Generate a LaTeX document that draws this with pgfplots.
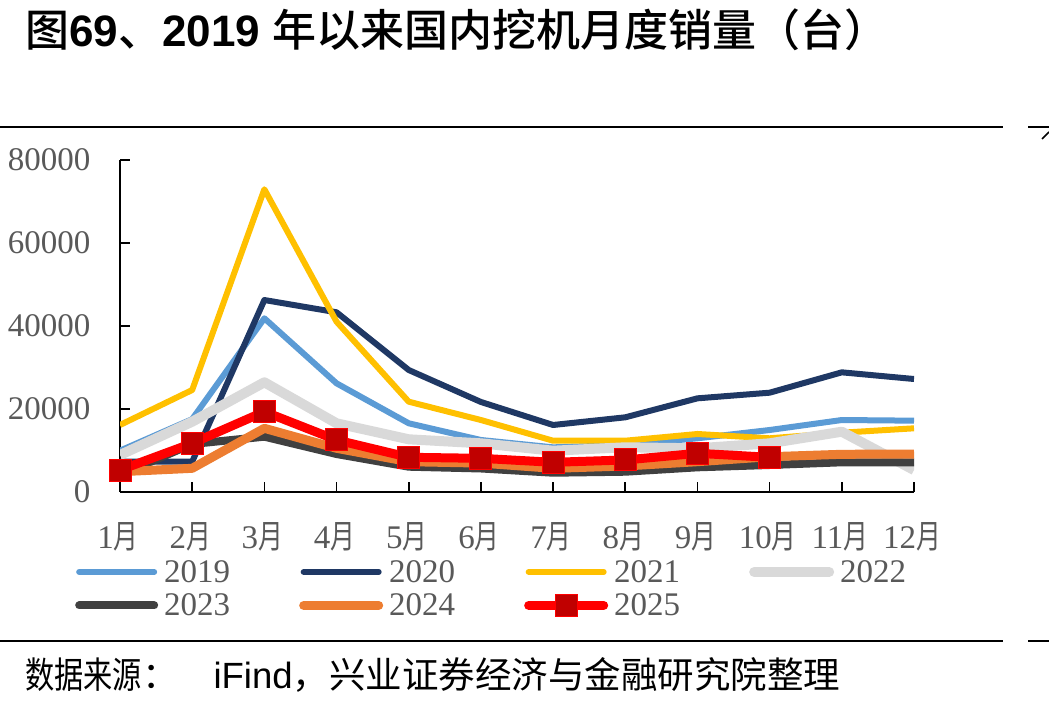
\documentclass[border=0pt]{standalone}
\usepackage{fontspec}
\setmainfont{Liberation Serif}
\newfontfamily\cjk{Noto Sans CJK SC}
\newfontfamily\cjkm{Noto Sans CJK SC Medium}
\newfontfamily\arial{Liberation Sans}
\usepackage{graphicx}
\usepackage{pgfplots}
\pgfplotsset{compat=1.18}
\usepackage{pgfplotstable}
\definecolor{c2019}{HTML}{5B9BD5}
\definecolor{c2020}{HTML}{1F3864}
\definecolor{c2021}{HTML}{FFC000}
\definecolor{c2022}{HTML}{D9D9D9}
\definecolor{c2023}{HTML}{404040}
\definecolor{c2024}{HTML}{ED7D31}
\definecolor{c2025}{HTML}{FF0000}
\definecolor{m2025}{HTML}{C00000}
\definecolor{txtgray}{HTML}{595959}
\newcommand\yue{\scalebox{0.75}[1]{\cjk 月}}
\newcommand\lbl{\fontsize{33}{36}\selectfont}

\pgfplotstableread{
m  y2019 y2020 y2021 y2022 y2023 y2024 y2025
1  9900  7240  16090 8850  4030  4820  5230
2  17500 7240  24530 16880 11500 5640  11670
3  41820 46230 72940 26390 13270 15290 19300
4  26140 43270 41000 16500 9090  10470 12470
5  16500 29350 21710 12640 6030  7240  8300
6  12470 21640 17290 11670 5600  6900  8050
7  10700 16090 12300 9890  4580  5640  7090
8  11260 17940 12300 10710 4820  6200  7650
9  12880 22520 13920 10470 5880  7240  9260
10 14880 23880 12880 11670 6440  8440  8300
11 17290 28790 14230 14470 7090  9020  nan
12 17130 27180 15290 5230  7090  9090  nan
}\data

\begin{document}
\begin{tikzpicture}[x=1pt,y=1pt]
\path[use as bounding box] (0,0) rectangle (1049,702);
% title
\node[anchor=base west, inner sep=0pt] at (25,655) {\fontsize{44}{48}\selectfont\cjkm 图{\arial\bfseries 69}、{\arial\bfseries 2019 }年以来国内挖机月度销量（台）};
% rules
\draw[line width=2.2pt] (0,575) -- (1003,575);
\draw[line width=2.2pt] (1028,575) -- (1049,575);
\draw[line width=1.5pt] (1042,563) -- (1049,570);
\draw[line width=2.2pt] (0,61) -- (1003,61);
\draw[line width=2.2pt] (1028,61) -- (1049,61);
% footer
\node[anchor=base west, inner sep=0pt] at (25,14) {\fontsize{36.5}{40}\selectfont\cjk \scalebox{0.8}[1]{数据来源}：\hspace{35pt}{\arial iFind}，兴业证券经济与金融研究院整理};

\begin{axis}[
  at={(120pt,210.3pt)}, anchor=south west,
  scale only axis, width=794pt, height=331.7pt,
  xmin=1, xmax=12, ymin=0, ymax=80000,
  axis lines=left,
  axis line style={-, line width=1.6pt, black},
  xtick={1,...,12},
  xticklabels={1\yue,2\yue,3\yue,4\yue,5\yue,6\yue,7\yue,8\yue,9\yue,10\yue,11\yue,12\yue},
  ytick={0,20000,40000,60000,80000},
  scaled y ticks=false,
  yticklabel style={/pgf/number format/1000 sep={}, /pgf/number format/assume math mode=true, xshift=-26pt},
  xticklabel style={yshift=-27pt, xshift=-2pt},
  tick align=inside,
  major tick length=10pt,
  tick style={line width=1.6pt, black},
  ticklabel style={font=\lbl, text=txtgray},
  unbounded coords=jump,
  legend columns=4,
  legend cell align=left,
  legend style={draw=none, fill=none, font=\lbl, text=txtgray,
    at={(axis description cs:-0.0567,-0.191)}, anchor=north west,
    inner sep=0pt, row sep=0pt,
    nodes={inner ysep=5pt, inner xsep=6pt},
    /tikz/every even column/.append style={column sep=63pt}},
  legend image code/.code={\draw[mark repeat=2,mark phase=2,line cap=round,#1] plot coordinates {(4pt,0pt) (41.5pt,0pt) (79pt,0pt)};},
  every axis plot/.append style={line join=round}
]
\addplot[c2019, line width=6pt] table[x=m,y=y2019] {\data};
\addlegendentry{2019}
\addplot[c2020, line width=6pt] table[x=m,y=y2020] {\data};
\addlegendentry{2020}
\addplot[c2021, line width=6pt] table[x=m,y=y2021] {\data};
\addlegendentry{2021}
\addplot[c2022, line width=10pt] table[x=m,y=y2022] {\data};
\addlegendentry{2022}
\addplot[c2023, line width=8pt] table[x=m,y=y2023] {\data};
\addlegendentry{2023}
\addplot[c2024, line width=9pt] table[x=m,y=y2024] {\data};
\addlegendentry{2024}
\addplot[c2025, line width=9pt, mark=square*, mark size=11pt, mark options={fill=m2025, draw=none, line width=0pt}] table[x=m,y=y2025] {\data};
\addlegendentry{2025}
\end{axis}
\end{tikzpicture}
\end{document}
